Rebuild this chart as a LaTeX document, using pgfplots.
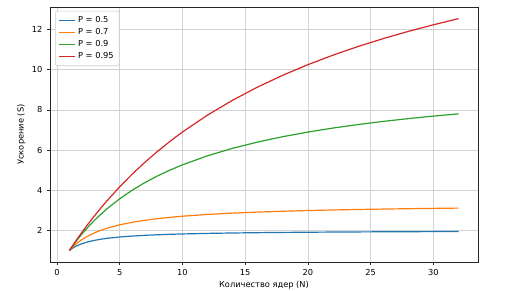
\documentclass[border=0pt]{standalone}
\usepackage{pgfplots}
\pgfplotsset{compat=1.18}
\usepackage{pgfplotstable}
\usepackage{fontspec}
\setmainfont{DejaVu Sans}
\definecolor{c0}{HTML}{1F77B4}
\definecolor{c1}{HTML}{FF7F0E}
\definecolor{c2}{HTML}{2CA02C}
\definecolor{c3}{HTML}{D62728}
\pgfplotstableread{
N a b c d
1 1 1 1 1
1.25 1.1111 1.1628 1.2195 1.2346
1.5 1.2 1.3043 1.4286 1.4634
1.75 1.2727 1.4286 1.6279 1.6867
2 1.3333 1.5385 1.8182 1.9048
2.5 1.4286 1.7241 2.1739 2.3256
3 1.5 1.875 2.5 2.7273
3.5 1.5556 2.0 2.8 3.1111
4 1.6 2.1053 3.0769 3.4783
5 1.6667 2.2727 3.5714 4.1667
6 1.7143 2.4 4 4.8
7 1.75 2.5 4.375 5.3846
8 1.7778 2.5806 4.7059 5.9259
9 1.8 2.6471 5 6.4286
10 1.8182 2.7027 5.2632 6.8966
12 1.8462 2.7907 5.7143 7.7419
14 1.8667 2.8571 6.0870 8.4848
16 1.8824 2.9091 6.4 9.1429
18 1.8947 2.9508 6.6667 9.7297
20 1.9048 2.9851 6.8966 10.2564
22 1.9130 3.0137 7.0968 10.7317
24 1.92 3.0380 7.2727 11.1628
26 1.9259 3.0588 7.4286 11.5556
28 1.9310 3.0769 7.5676 11.9149
30 1.9355 3.0928 7.6923 12.2449
32 1.9394 3.1068 7.8049 12.5490
}\amdahl
\begin{document}
\begin{tikzpicture}
\useasboundingbox (-37.5pt,-21pt) rectangle (349.5pt,196.5pt);
\begin{axis}[
  scale only axis,
  width=321pt, height=191.25pt,
  xmin=-0.55, xmax=33.55, ymin=0.42, ymax=13.13,
  xtick={0,5,10,15,20,25,30},
  ytick={2,4,6,8,10,12},
  tick align=outside,
  tick pos=left,
  major tick length=2.2pt,
  grid=major,
  grid style={draw=gray!35, line width=0.6pt},
  axis line style={line width=0.5pt, draw=black!85},
  tick style={black!85, line width=0.5pt},
  font=\fontsize{6.2}{7.4}\selectfont,
  /pgf/number format/assume math mode=true,
  xlabel={Количество ядер (N)},
  ylabel={Ускорение (S)},
  xlabel style={yshift=2.5pt},
  ylabel style={yshift=-2pt},
  legend style={at={(0.012,0.985)}, anchor=north west, draw=gray!40, rounded corners=1.5pt,
    font=\fontsize{6.2}{7.4}\selectfont, inner sep=2.5pt,
    nodes={inner sep=1.5pt, text height=4.6pt, text depth=1.4pt}},
  legend cell align=left,
  legend image code/.code={\draw[#1, line width=1.1pt] (0cm,0cm) -- (0.42cm,0cm);},
]
\addplot[c0, line width=0.9pt] table[x=N,y=a] {\amdahl};
\addlegendentry{P = 0.5}
\addplot[c1, line width=0.9pt] table[x=N,y=b] {\amdahl};
\addlegendentry{P = 0.7}
\addplot[c2, line width=0.9pt] table[x=N,y=c] {\amdahl};
\addlegendentry{P = 0.9}
\addplot[c3, line width=0.9pt] table[x=N,y=d] {\amdahl};
\addlegendentry{P = 0.95}
\end{axis}
\end{tikzpicture}
\end{document}
